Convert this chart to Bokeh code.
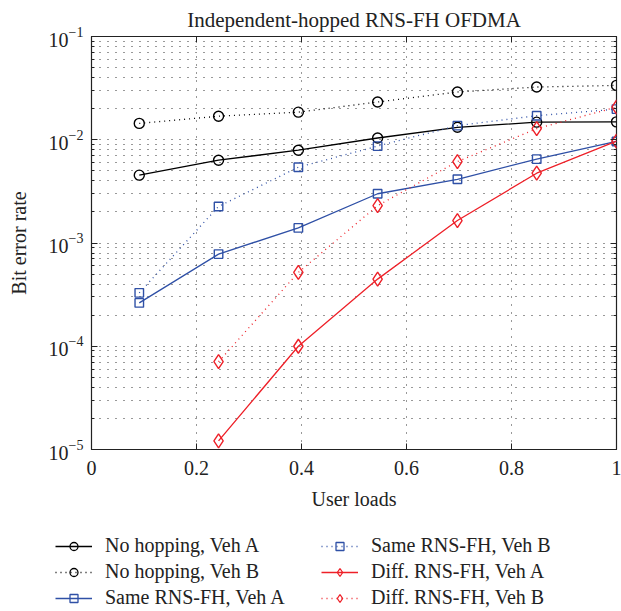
from bokeh.plotting import figure
from bokeh.layouts import column
from bokeh.models import FixedTicker, LogAxis, LinearAxis, Legend, LegendItem, CustomJSTickFormatter
from bokeh.embed import file_html
from bokeh.resources import INLINE

# ---- data ----
loads = [0.091, 0.242, 0.394, 0.545, 0.697, 0.848, 1.0]
no_hop_A = [0.00454, 0.00634, 0.00792, 0.0104, 0.0132, 0.0148, 0.0149]
no_hop_B = [0.0144, 0.0169, 0.0185, 0.0232, 0.0290, 0.0324, 0.0336]
same_A = [0.000263, 0.000781, 0.00140, 0.00300, 0.00414, 0.00649, 0.00962]
same_B = [0.000329, 0.00226, 0.00542, 0.00867, 0.0137, 0.0171, 0.0198]
diff_loads = [0.242, 0.394, 0.545, 0.697, 0.848, 1.0]
diff_A = [1.21e-5, 1.00e-4, 0.000447, 0.00165, 0.00474, 0.00970]
diff_B = [7.08e-5, 0.000519, 0.00230, 0.00615, 0.0128, 0.0207]

x_ticks = [0, 0.2, 0.4, 0.6, 0.8, 1]
x_tick_labels = ["0", "0.2", "0.4", "0.6", "0.8", "1"]
y_ticks = [1e-5, 1e-4, 1e-3, 1e-2, 1e-1]
y_minor = [m * d for d in [1e-5, 1e-4, 1e-3, 1e-2] for m in range(2, 10)]

title = "Independent-hopped RNS-FH OFDMA"
x_label = "User loads"
y_label = "Bit error rate"

FONT = "Liberation Serif"
BLACK = "#000000"
BLUE = "#2f50a6"
RED = "#ee2028"

p = figure(width=621, height=520, y_axis_type="log", x_range=(0, 1), y_range=(1e-5, 1e-1),
           output_backend="svg", toolbar_location=None,
           min_border_left=91, min_border_right=5, min_border_top=35, min_border_bottom=71)

p.title.text = title
p.title.align = "center"
p.title.text_font = FONT
p.title.text_font_size = "21px"
p.title.text_font_style = "normal"
p.title.text_color = "#222222"

p.outline_line_color = "#222222"
p.outline_line_width = 1.2

xt = FixedTicker(ticks=x_ticks)
yt = FixedTicker(ticks=y_ticks, minor_ticks=y_minor)

p.xaxis.ticker = xt
p.xaxis.major_label_overrides = dict(zip(x_ticks, x_tick_labels))
p.yaxis.ticker = yt
for ax in (p.xaxis, p.yaxis):
    ax.major_label_text_font = FONT
    ax.major_label_text_font_size = "20px"
    ax.major_label_text_color = "#222222"
    ax.axis_label_text_font = FONT
    ax.axis_label_text_font_size = "20px"
    ax.axis_label_text_font_style = "normal"
    ax.axis_label_text_color = "#222222"
    ax.major_tick_in = 6
    ax.major_tick_out = 0
    ax.minor_tick_in = 3
    ax.minor_tick_out = 0
    ax.axis_line_color = "#222222"
    ax.major_tick_line_color = "#222222"
    ax.minor_tick_line_color = "#222222"
p.xaxis.minor_tick_line_color = None
p.xaxis.axis_label = x_label
p.yaxis.axis_label = y_label
p.xaxis.major_label_standoff = 11
p.xaxis.axis_label_standoff = 10
p.yaxis.major_label_standoff = 8
p.yaxis.axis_label_standoff = 16

blank = CustomJSTickFormatter(code="return ''")
ra = LogAxis(ticker=yt, formatter=blank, major_label_standoff=0,
             major_tick_in=6, major_tick_out=0, minor_tick_in=3, minor_tick_out=0,
             axis_line_color=None, major_tick_line_color="#222222", minor_tick_line_color="#222222")
p.add_layout(ra, "right")
ta = LinearAxis(ticker=xt, formatter=blank, major_label_standoff=0,
                major_tick_in=6, major_tick_out=0, minor_tick_line_color=None,
                axis_line_color=None, major_tick_line_color="#222222")
p.add_layout(ta, "above")

p.xgrid.ticker = xt
p.ygrid.ticker = yt
for g in (p.xgrid, p.ygrid):
    g.grid_line_color = "#333333"
    g.grid_line_dash = "1 7"
    g.grid_line_width = 1
p.ygrid.minor_grid_line_color = "#333333"
p.ygrid.minor_grid_line_dash = "1 7"

series = [
    ("No hopping, Veh A", loads, no_hop_A, BLACK, "solid", "circle", 10),
    ("No hopping, Veh B", loads, no_hop_B, BLACK, "1 4", "circle", 10),
    ("Same RNS-FH, Veh A", loads, same_A, BLUE, "solid", "square", 8.5),
    ("Same RNS-FH, Veh B", loads, same_B, BLUE, "1 4", "square", 8.5),
    ("Diff. RNS-FH, Veh A", diff_loads, diff_A, RED, "solid", "diamond", 14),
    ("Diff. RNS-FH, Veh B", diff_loads, diff_B, RED, "1 4", "diamond", 14),
]
for name, xs, ys, col, dash, mk, sz in series:
    p.line(xs, ys, line_color=col, line_dash=dash, line_width=1.3)
    p.scatter(xs, ys, marker=mk, size=sz, line_color=col, fill_color=None, line_width=1.4)

# ---- legend strip below the plot (hidden proxy renderers carry the legend glyphs) ----
q = figure(width=621, height=91, y_axis_type="log", x_range=(0, 1), y_range=(1e-5, 1e-1),
           output_backend="svg", toolbar_location=None,
           x_axis_location=None, y_axis_location=None,
           min_border=0, min_border_left=0, min_border_right=0,
           min_border_top=0, min_border_bottom=0, outline_line_color=None)
q.xgrid.visible = False
q.ygrid.visible = False
try:
    q.frame_align = False
    off = 0
except AttributeError:
    off = 91

items = []
for name, xs, ys, col, dash, mk, sz in series:
    l = q.line(xs, ys, line_color=col, line_dash=dash, line_width=1.3, visible=False)
    s = q.scatter(xs, ys, marker=mk, size=sz * 0.9, line_color=col, fill_color=None,
                  line_width=1.3, visible=False)
    items.append(LegendItem(label=name, renderers=[l, s]))

def make_legend(its, loc):
    return Legend(items=its, location=loc, orientation="vertical",
                  label_text_font=FONT, label_text_font_size="20px", label_text_color="#222222",
                  glyph_width=37, glyph_height=20, label_height=20, label_standoff=13,
                  spacing=3, padding=0, margin=0, background_fill_alpha=0,
                  border_line_color=None, inactive_fill_alpha=0)

q.add_layout(make_legend(items[:3], (max(55 - off, 0), 2)))
q.add_layout(make_legend(items[3:], (321 - off, 2)))

layout = column(p, q, spacing=0)
open("out.html", "w").write(file_html(layout, INLINE))
